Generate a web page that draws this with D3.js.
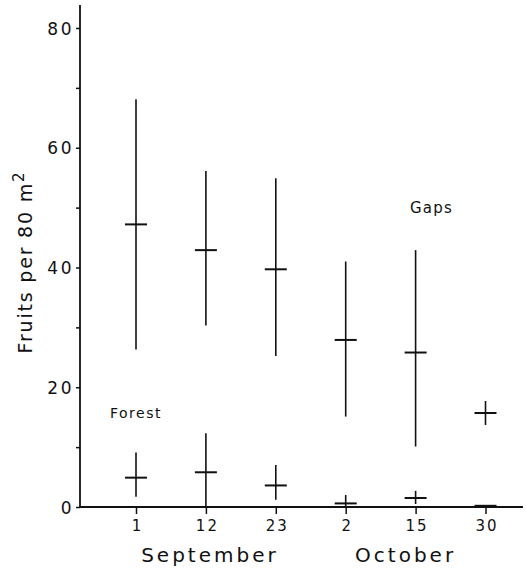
<!DOCTYPE html>
<html>
<head>
<meta charset="utf-8">
<script src="https://cdn.jsdelivr.net/npm/d3@7"></script>
<style>
  body { margin: 0; background: #fff; }
  text { font-family: "DejaVu Sans", sans-serif; fill: #111; }
</style>
</head>
<body>
<div id="chart"></div>
<script>
const dates = ["1", "12", "23", "2", "15", "30"];
const months = [["September", ["1", "12", "23"]], ["October", ["2", "15", "30"]]];

// Gaps: mean, low, high
const gapsMean = [47.2, 42.9, 39.7, 27.9, 25.8, 15.7];
const gapsLow  = [26.3, 30.3, 25.2, 15.1, 10.1, 13.7];
const gapsHigh = [68.1, 56.1, 54.9, 41.0, 42.9, 17.7];

// Forest: mean, low, high
const forestMean = [4.9, 5.8, 3.6, 0.6, 1.5, 0.2];
const forestLow  = [1.7, 0.0, 1.2, 0.0, 0.5, 0.2];
const forestHigh = [9.1, 12.3, 7.0, 2.0, 2.7, 0.2];

const yTicks = [0, 10, 20, 30, 40, 50, 60, 70, 80];

const W = 526, H = 568;
const margin = { top: 5, right: 3, bottom: 61, left: 80 };

const svg = d3.select("#chart").append("svg")
  .attr("width", W).attr("height", H);

const x = d3.scalePoint()
  .domain(dates.map((d, i) => i))
  .range([136, 485.5]);

const y = d3.scaleLinear()
  .domain([0, 80])
  .range([507, 28]);

// y axis
const yAxis = svg.append("g")
  .attr("transform", `translate(${margin.left},0)`)
  .call(d3.axisLeft(y).tickValues(yTicks).tickSize(4).tickPadding(2)
    .tickFormat(d => d % 20 === 0 ? d : ""));
yAxis.select(".domain").remove();
yAxis.selectAll("line").attr("stroke", "#111").attr("stroke-width", 1.5);
yAxis.selectAll("text").style("font-size", "17px").style("letter-spacing", "2.5px")
  .style("font-family", "DejaVu Sans").attr("dy", "0.36em");
svg.append("line")
  .attr("x1", margin.left).attr("x2", margin.left)
  .attr("y1", margin.top).attr("y2", y(0))
  .attr("stroke", "#111").attr("stroke-width", 1.8);

// x axis
const xAxis = svg.append("g")
  .attr("transform", `translate(0,${y(0)})`)
  .call(d3.axisBottom(x).tickSize(7).tickPadding(6).tickFormat(i => dates[i]));
xAxis.select(".domain").remove();
xAxis.selectAll("line").attr("stroke", "#111").attr("stroke-width", 1.5);
xAxis.selectAll("text").style("font-size", "15px").style("letter-spacing", "2px")
  .style("font-family", "DejaVu Sans").attr("dx", "1px");
svg.append("line")
  .attr("x1", margin.left).attr("x2", W - margin.right)
  .attr("y1", y(0)).attr("y2", y(0))
  .attr("stroke", "#111").attr("stroke-width", 2);

// month labels
months.forEach(([m, ds]) => {
  const xs = ds.map(d => x(dates.indexOf(d)));
  svg.append("text")
    .attr("x", d3.mean(xs) + (m === "September" ? 4 : -10))
    .attr("y", 562)
    .attr("text-anchor", "middle")
    .style("font-size", "20px")
    .style("letter-spacing", "3px")
    .text(m);
});

// y label
const yl = svg.append("text")
  .attr("transform", "translate(32,262) rotate(-90)")
  .attr("text-anchor", "middle")
  .style("font-size", "19px")
  .style("letter-spacing", "1.8px");
yl.append("tspan").text("Fruits per 80 m");
yl.append("tspan").attr("dy", -8).style("font-size", "15px").text("2");

// error bars
function drawSeries(mean, low, high, cls) {
  const g = svg.append("g").attr("class", cls);
  const idx = d3.range(mean.length);
  g.selectAll("line.v").data(idx).enter().append("line")
    .attr("class", "v")
    .attr("x1", i => x(i)).attr("x2", i => x(i))
    .attr("y1", i => y(high[i])).attr("y2", i => y(low[i]))
    .attr("stroke", "#111").attr("stroke-width", 1.6);
  g.selectAll("line.h").data(idx).enter().append("line")
    .attr("class", "h")
    .attr("x1", i => x(i) - 11).attr("x2", i => x(i) + 11)
    .attr("y1", i => y(mean[i])).attr("y2", i => y(mean[i]))
    .attr("stroke", "#111").attr("stroke-width", 2);
}
drawSeries(gapsMean, gapsLow, gapsHigh, "gaps");
drawSeries(forestMean, forestLow, forestHigh, "forest");

svg.append("text").attr("x", 110).attr("y", 418)
  .style("font-size", "14px").style("letter-spacing", "1.5px").text("Forest");
svg.append("text").attr("x", 410).attr("y", 213)
  .style("font-size", "15px").style("letter-spacing", "1.2px").text("Gaps");
</script>
</body>
</html>
